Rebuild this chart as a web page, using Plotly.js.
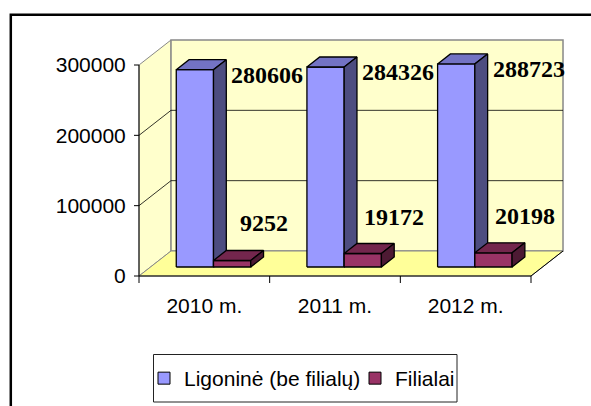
<!DOCTYPE html>
<html>
<head>
<meta charset="utf-8">
<script src="https://cdn.plot.ly/plotly-3.0.1.min.js"></script>
<style>html,body{margin:0;padding:0;background:#fff;}#chart{width:591px;height:406px;}</style>
</head>
<body>
<div id="chart"></div>
<script>
// ---- data ----
const categories = ['2010 m.', '2011 m.', '2012 m.'];
const ligonine = [280606, 284326, 288723];
const filialai = [9252, 19172, 20198];
const seriesNames = ['Ligoninė (be filialų)', 'Filialai'];
const yTicks = [0, 100000, 200000, 300000];
const yTickText = ['0', '100000', '200000', '300000'];

// ---- geometry (pixels of the picture -> axis units) ----
const OX = 139, OY = 276;          // pixel of front origin
const CATPX = 130.67;              // px per category
const YPX = 211 / 300000;          // px per value unit
const DX = 32 / CATPX;             // depth offset in x units
const DY = 25 / YPX;               // depth offset in y units
const L = 133, R = 567, T = 36, B = 285;
const xRange = [(L - OX) / CATPX, (R - OX) / CATPX];
const yRange = [(OY - B) / YPX, (OY - T) / YPX];
const G = 0.197, W = 0.285, D0 = 0.36, D1 = 0.76;
const YMAX = yTicks[yTicks.length - 1];
const NC = categories.length;

const colors = {
  front: ['#9999FF', '#993366'],
  top: ['#7373C4', '#73264D'],
  side: ['#4D4D80', '#4D1A33']
};

function trace(polys, fill, lineColor, lw) {
  const x = [], y = [];
  polys.forEach(p => { p.forEach(q => { x.push(q[0]); y.push(q[1]); }); x.push(p[0][0]); y.push(p[0][1]); x.push(null); y.push(null); });
  return {type: 'scatter', mode: 'lines', x, y, fill: fill ? 'toself' : 'none', fillcolor: fill || undefined,
    line: {color: lineColor, width: lw}, hoverinfo: 'skip', showlegend: false, connectgaps: false};
}
function segs(list, color, lw) {
  const x = [], y = [];
  list.forEach(s => { x.push(s[0][0], s[1][0], null); y.push(s[0][1], s[1][1], null); });
  return {type: 'scatter', mode: 'lines', x, y, line: {color, width: lw}, hoverinfo: 'skip', showlegend: false};
}

const traces = [];
// walls and floor
traces.push(trace([[[0, 0], [0, YMAX], [DX, YMAX + DY], [DX, DY]]], '#FFFFCC', '#888888', 1));
traces.push(trace([[[DX, DY], [DX, YMAX + DY], [NC + DX, YMAX + DY], [NC + DX, DY]]], '#FFFFCC', '#888888', 1.5));
traces.push(trace([[[0, 0], [NC, 0], [NC + DX, DY], [DX, DY]]], '#FFFF99', '#888888', 1));
traces.push(segs([[[0, 0], [NC, 0]], [[NC, 0], [NC + DX, DY]]], '#000000', 1));
// gridlines
const grid = [];
yTicks.slice(1, -1).forEach(v => { grid.push([[0, v], [DX, v + DY]]); grid.push([[DX, v + DY], [NC + DX, v + DY]]); });
traces.push(segs(grid, '#000000', 0.8));
// y axis front line + ticks
const ax = [[[0, 0], [0, YMAX]]];
yTicks.forEach(v => ax.push([[-5 / CATPX, v], [0, v]]));
traces.push(segs(ax, '#000000', 1));
// category boundary ticks
const ct = [];
for (let i = 0; i <= NC; i++) ct.push([[i, 0], [i, -7 / YPX]]);
traces.push(segs(ct, '#000000', 1));

// bars
const seriesVals = [ligonine, filialai];
const annotations = [];
const labelFont = {family: 'Liberation Serif, Times New Roman, serif', size: 24, color: '#000', weight: 'bold'};
seriesVals.forEach((vals, s) => {
  const fronts = [], tops = [], sides = [];
  vals.forEach((v, i) => {
    const x0 = i + G + s * W, x1 = x0 + W;
    const fx0 = x0 + D0 * DX, fx1 = x1 + D0 * DX, bx0 = x0 + D1 * DX, bx1 = x1 + D1 * DX;
    const fy = D0 * DY, by = D1 * DY;
    fronts.push([[fx0, fy], [fx1, fy], [fx1, v + fy], [fx0, v + fy]]);
    tops.push([[fx0, v + fy], [fx1, v + fy], [bx1, v + by], [bx0, v + by]]);
    sides.push([[fx1, fy], [bx1, by], [bx1, v + by], [fx1, v + fy]]);
    annotations.push(s === 0 ? {
      x: bx1, y: v + fy, xref: 'x', yref: 'y', text: String(v), showarrow: false,
      xanchor: 'left', yanchor: 'middle', xshift: 3, yshift: -5, font: labelFont
    } : {
      x: bx1, y: v + fy, xref: 'x', yref: 'y', text: String(v), showarrow: false,
      xanchor: 'center', yanchor: 'middle', yshift: 37, font: labelFont
    });
  });
  traces.push(trace(fronts, colors.front[s], '#000000', 1.3));
  traces.push(trace(tops, colors.top[s], '#000000', 1.3));
  traces.push(trace(sides, colors.side[s], '#000000', 1.3));
});

// legend entries
seriesNames.forEach((n, s) => traces.push({
  type: 'bar', x: [-10], y: [1], name: n, marker: {color: colors.front[s], line: {color: '#000', width: 1}}, hoverinfo: 'skip'
}));

const PW = R - L, PH = B - T;
const px2paperX = p => (p - L) / PW;
const px2paperY = p => (B - p) / PH;
const layout = {
  width: 591, height: 406,
  margin: {l: L, r: 591 - R, t: T, b: 406 - B, pad: 0},
  paper_bgcolor: '#ffffff', plot_bgcolor: 'rgba(0,0,0,0)',
  showlegend: true,
  font: {family: 'Liberation Sans, Arial, sans-serif', color: '#000'},
  xaxis: {range: xRange, showgrid: false, zeroline: false, showline: false,
    tickmode: 'array', tickvals: categories.map((c, i) => i + 0.5), ticktext: categories,
    ticks: 'outside', ticklen: 2, tickcolor: 'rgba(0,0,0,0)', tickfont: {size: 21, color: '#000'}, fixedrange: true},
  yaxis: {range: yRange, showgrid: false, zeroline: false, showline: false,
    tickmode: 'array', tickvals: yTicks, ticktext: yTickText,
    ticks: 'outside', ticklen: 2, tickcolor: 'rgba(0,0,0,0)', tickfont: {size: 21, color: '#000'}, fixedrange: true},
  legend: {orientation: 'h', xref: 'container', yref: 'container', x: 144 / 591, y: 1 - 358 / 406,
    xanchor: 'left', yanchor: 'top', bgcolor: 'rgba(0,0,0,0)', borderwidth: 0,
    entrywidthmode: 'pixels', entrywidth: 166,
    font: {size: 21, color: '#000'}},
  annotations,
  shapes: [
    {type: 'rect', xref: 'paper', yref: 'paper',
      x0: px2paperX(10.8), x1: px2paperX(596), y0: px2paperY(412), y1: px2paperY(14.8),
      line: {color: '#000', width: 2.5}, fillcolor: 'rgba(0,0,0,0)'},
    {type: 'rect', xref: 'paper', yref: 'paper',
      x0: px2paperX(153.5), x1: px2paperX(457), y0: px2paperY(402), y1: px2paperY(354.5),
      line: {color: '#222', width: 1}, fillcolor: '#ffffff', layer: 'below'}
  ]
};

Plotly.newPlot('chart', traces, layout, {staticPlot: true, displayModeBar: false});
</script>
</body>
</html>
